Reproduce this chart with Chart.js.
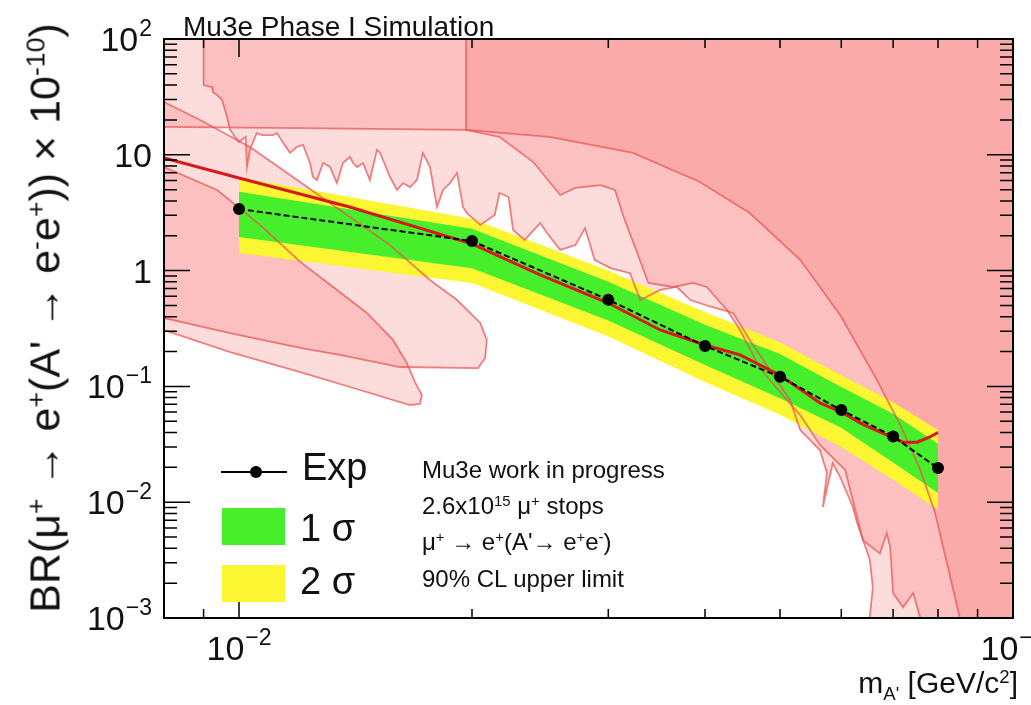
<!DOCTYPE html>
<html>
<head>
<meta charset="utf-8">
<title>Mu3e A' limit</title>
<script src="https://cdn.jsdelivr.net/npm/chart.js@4.4.1/dist/chart.umd.min.js"></script>
<style>
  html, body { margin: 0; padding: 0; background: #fff; }
  #wrap { position: relative; width: 1031px; height: 705px; overflow: hidden;
          font-family: "Liberation Sans", Arial, Helvetica, sans-serif; color: #111; }
  #plot { position: absolute; left: 0; top: 0; }
  .t { position: absolute; white-space: nowrap; line-height: normal; }
  .t sup, .t sub { font-size: 62%; line-height: 0; position: relative; vertical-align: baseline; }
  .t sup { top: -0.55em; }
  .t sub { top: 0.35em; }
  .mark { position: absolute; }
</style>
</head>
<body>
<div id="wrap">
  <canvas id="plot" width="1031" height="705"></canvas>

  <div class="t" style="left:183px; top:11px; font-size:28px;">Mu3e Phase I Simulation</div>
  <div class="t" style="left:45px; top:318px; font-size:43px; transform:translate(-50%,-50%) rotate(-90deg);">BR(μ<sup>+</sup> → e<sup>+</sup>(A' → e<sup>-</sup>e<sup>+</sup>)) × 10<sup>-10</sup>)</div>
  <div class="t" style="right:13px; top:666px; font-size:30px;">m<sub>A'</sub> [GeV/c<sup>2</sup>]</div>

  <div class="mark" style="left:221px; top:471px; width:66px; height:2px; background:#000;"></div>
  <div class="mark" style="left:250px; top:466px; width:12px; height:12px; border-radius:50%; background:#000;"></div>
  <div class="mark" id="swatch1" style="left:222px; top:508px; width:63px; height:37px;"></div>
  <div class="mark" id="swatch2" style="left:222px; top:565px; width:63px; height:37px;"></div>
  <div class="t" style="left:302px; top:446px; font-size:38px;">Exp</div>
  <div class="t" style="left:300px; top:507px; font-size:38px;">1 σ</div>
  <div class="t" style="left:300px; top:560px; font-size:38px;">2 σ</div>

  <div class="t" style="left:422px; top:456px; font-size:24px;">Mu3e work in progress</div>
  <div class="t" style="left:422px; top:492px; font-size:24px;">2.6x10<sup>15</sup> μ<sup>+</sup> stops</div>
  <div class="t" style="left:422px; top:528px; font-size:24px;">μ<sup>+</sup> → e<sup>+</sup>(A'→ e<sup>+</sup>e<sup>-</sup>)</div>
  <div class="t" style="left:422px; top:565px; font-size:24px;">90% CL upper limit</div>
</div>

<script>
// axis limits
const xRange = [0.008, 0.1];
const yRange = [0.001, 100];

// tick labels
const yLabelValues = [0.001, 0.01, 0.1, 1, 10, 100];
const yLabelBase = ["10", "10", "10", "1", "10", "10"];
const yLabelExp = ["\u22123", "\u22122", "\u22121", "", "", "2"];
const xLabelValues = [0.01, 0.1];
const xLabelBase = ["10", "10"];
const xLabelExp = ["\u22122", "\u22121"];

// expected limit and bands
const massPoints = [0.01, 0.02, 0.03, 0.04, 0.05, 0.06, 0.07, 0.08];
const expectedLimit = [3.4, 1.8, 0.56, 0.223, 0.121, 0.0625, 0.037, 0.0197];
const band1Upper = [4.8, 2.3, 0.80, 0.34, 0.19, 0.099, 0.058, 0.032];
const band1Lower = [1.95, 1.05, 0.37, 0.153, 0.079, 0.044, 0.022, 0.012];
const band2Upper = [6.4, 2.8, 1.0, 0.44, 0.24, 0.125, 0.073, 0.042];
const band2Lower = [1.42, 0.78, 0.27, 0.109, 0.057, 0.030, 0.0156, 0.0086];

// red curve
const redMass = [0.008, 0.01, 0.0139, 0.02, 0.0245, 0.03, 0.035, 0.04, 0.0444, 0.05, 0.0563, 0.06, 0.064, 0.07, 0.0721, 0.0752, 0.0781, 0.08];
const redBR = [9.4, 6.3, 3.54, 1.70, 0.92, 0.525, 0.307, 0.228, 0.187, 0.125, 0.072, 0.060, 0.047, 0.036, 0.033, 0.033, 0.0366, 0.040];

// excluded regions (pink)
const scanMass = [0.009, 0.009, 0.00923, 0.00925, 0.00937, 0.00951, 0.00965, 0.00974, 0.00988, 0.0100,
  0.0102, 0.01024, 0.01033, 0.01054, 0.01071, 0.01106, 0.0112, 0.0114, 0.01164, 0.01188,
  0.0121, 0.01235, 0.01246, 0.01261, 0.01284, 0.01311, 0.01338, 0.01362, 0.01391, 0.01404,
  0.01421, 0.01446, 0.01476, 0.01507, 0.01521, 0.01535, 0.01567, 0.016, 0.01629, 0.01663,
  0.01698, 0.01728, 0.01765, 0.01802, 0.01835, 0.01873, 0.01913, 0.01947, 0.0197, 0.0205,
  0.0214, 0.0217, 0.0223, 0.0226, 0.0234, 0.0245, 0.025, 0.026, 0.0272, 0.028,
  0.0288, 0.0302, 0.032, 0.033, 0.035, 0.0368, 0.0383, 0.0408, 0.0435, 0.0457,
  0.0485, 0.0515, 0.0531, 0.0547, 0.0563, 0.0575, 0.0568, 0.0585, 0.0598, 0.0621,
  0.0629, 0.0653, 0.0659, 0.0653];
const scanBR = [100, 40, 38.5, 34.8, 32.8, 29.7, 21.2, 16.4, 14.3, 12.9,
  14.3, 7.85, 11.0, 15.4, 14.8, 14.8, 15.4, 12.7, 10.4, 11.7,
  12.2, 8.49, 6.43, 6.06, 8.49, 7.85, 5.70, 8.49, 9.58, 8.49,
  7.85, 8.49, 6.06, 11.0, 10.4, 9.02, 6.43, 4.97, 5.70, 5.27,
  6.06, 10.4, 7.85, 3.54, 4.97, 5.70, 6.97, 3.54, 3.14, 2.48,
  3.02, 4.68, 4.32, 2.24, 1.84, 2.58, 2.11, 1.51, 1.66, 2.33,
  1.24, 1.05, 0.95, 0.557, 0.681, 0.722, 0.557, 0.485, 0.431, 0.252,
  0.139, 0.0764, 0.0421, 0.0344, 0.0282, 0.0179, 0.0091, 0.0218, 0.0165, 0.0091,
  0.0066, 0.0032, 0.00185, 0.001];

const plateauMass = [0.008, 0.012, 0.01965, 0.0217, 0.024, 0.026, 0.0272, 0.0293, 0.0306, 0.0315,
  0.0327, 0.0338, 0.0364, 0.0386, 0.0402, 0.0427, 0.0444, 0.0471, 0.05, 0.0531,
  0.0563, 0.0607, 0.064, 0.0673, 0.0687, 0.0694, 0.07, 0.0721, 0.0743, 0.0759];
const plateauBR = [17.4, 17.0, 16.4, 14.3, 8.66, 4.50, 5.17, 5.48, 4.97, 2.74,
  1.42, 0.782, 0.722, 0.782, 0.722, 0.457, 0.307, 0.144, 0.0895, 0.0566,
  0.0312, 0.0190, 0.0047, 0.0036, 0.0054, 0.0041, 0.00164, 0.00124, 0.00164, 0.001];

const arcMass = [0.01965, 0.01965, 0.0252, 0.0323, 0.0394, 0.0457, 0.0531, 0.0598, 0.0667, 0.0715, 0.0759, 0.0793, 0.0854];
const arcBR = [100, 16.4, 14.3, 10.4, 5.82, 3.14, 1.24, 0.414, 0.114, 0.0465, 0.019, 0.0081, 0.001];

const lobeAMass = [0.008, 0.00891, 0.01033, 0.01174, 0.0135, 0.01567, 0.01765, 0.01913, 0.0205, 0.0209, 0.0208, 0.02036, 0.01614, 0.0135, 0.012, 0.00974, 0.008];
const lobeABR = [28.6, 20.0, 11.7, 6.43, 3.34, 1.66, 0.830, 0.557, 0.353, 0.252, 0.176, 0.144, 0.147, 0.187, 0.215, 0.289, 0.390];

const lobeBMass = [0.008, 0.00937, 0.01064, 0.012, 0.01323, 0.01463, 0.01581, 0.01648, 0.01688, 0.01723, 0.01713, 0.01663, 0.01433, 0.012, 0.00974, 0.008];
const lobeBBR = [7.85, 4.97, 2.48, 1.19, 0.722, 0.431, 0.252, 0.159, 0.109, 0.0843, 0.0705, 0.0691, 0.0931, 0.133, 0.198, 0.307];

const PINK_FILL = "rgba(245, 80, 80, 0.2)";
const PINK_EDGE = "rgba(234, 82, 82, 0.72)";
const BAND_GREEN = "#46ee2c";
const BAND_YELLOW = "#fcf632";
const LABEL_FONT = '34px "Liberation Sans", Arial, sans-serif';
const EXP_FONT = '23px "Liberation Sans", Arial, sans-serif';

document.getElementById("swatch1").style.background = BAND_GREEN;
document.getElementById("swatch2").style.background = BAND_YELLOW;

function points(xs, ys) {
  return xs.map((x, i) => ({ x, y: ys[i] }));
}

const topLeft = { x: xRange[0], y: yRange[1] };
const topRight = { x: xRange[1], y: yRange[1] };
const bottomRight = { x: xRange[1], y: yRange[0] };

function regionFill(label, data) {
  return { label, data, fill: "shape", backgroundColor: PINK_FILL, borderColor: "rgba(0,0,0,0)",
    borderWidth: 0, pointRadius: 0, order: 10 };
}

function regionEdge(label, data) {
  return { label, data, fill: false, borderColor: PINK_EDGE, borderWidth: 1.8, pointRadius: 0, order: 4 };
}

function bandLine(label, data, fill, color, order) {
  return { label, data, fill, backgroundColor: color, borderColor: "rgba(0,0,0,0)",
    borderWidth: 0, pointRadius: 0, order };
}

const lobeA = points(lobeAMass, lobeABR);
const lobeB = points(lobeBMass, lobeBBR);

const datasets = [
  regionFill("plateau", [topLeft, ...points(plateauMass, plateauBR), bottomRight, topRight]),
  regionFill("scan", [...points(scanMass, scanBR), bottomRight, topRight]),
  regionFill("arc", [...points(arcMass, arcBR), bottomRight, topRight]),
  regionFill("lobe A", lobeA),
  regionFill("lobe B", lobeB),
  bandLine("2 sigma upper", points(massPoints, band2Upper), "+1", BAND_YELLOW, 8),
  bandLine("2 sigma lower", points(massPoints, band2Lower), false, BAND_YELLOW, 8),
  bandLine("1 sigma upper", points(massPoints, band1Upper), "+1", BAND_GREEN, 7),
  bandLine("1 sigma lower", points(massPoints, band1Lower), false, BAND_GREEN, 7),
  regionEdge("plateau edge", points(plateauMass, plateauBR)),
  regionEdge("scan edge", points(scanMass, scanBR)),
  regionEdge("arc edge", points(arcMass, arcBR)),
  regionEdge("lobe A edge", [...lobeA, lobeA[0]]),
  regionEdge("lobe B edge", [...lobeB, lobeB[0]]),
  {
    label: "observed",
    data: points(redMass, redBR),
    borderColor: "#d81818",
    borderWidth: 3,
    pointRadius: 0,
    fill: false,
    order: 3
  },
  {
    label: "Exp",
    data: points(massPoints, expectedLimit),
    borderColor: "#000",
    borderWidth: 2,
    borderDash: [6, 3],
    pointRadius: 6,
    pointBackgroundColor: "#000",
    pointBorderWidth: 0,
    fill: false,
    order: 1
  }
];

function isPowerOfTen(v) {
  const l = Math.log10(v);
  return Math.abs(l - Math.round(l)) < 1e-6;
}

function isWholeStep(v) {
  const m = v / Math.pow(10, Math.floor(Math.log10(v) + 1e-9));
  return Math.abs(m - Math.round(m)) < 1e-6;
}

function drawPowerLabel(ctx, base, exp, anchorX, baseline, align) {
  ctx.font = LABEL_FONT;
  const wb = ctx.measureText(base).width;
  ctx.font = EXP_FONT;
  const we = exp ? ctx.measureText(exp).width + 1 : 0;
  const total = wb + we;
  const left = align === "right" ? anchorX - total : anchorX - total / 2;
  ctx.font = LABEL_FONT;
  ctx.fillText(base, left, baseline);
  if (exp) {
    ctx.font = EXP_FONT;
    ctx.fillText(exp, left + wb + 1, baseline - 15);
  }
}

// ROOT-like frame: inward ticks on all four sides, powers-of-ten labels
const rootFrame = {
  id: "rootFrame",
  afterDatasetsDraw(chart) {
    const { ctx, chartArea: a, scales: { x, y } } = chart;
    ctx.save();
    ctx.strokeStyle = "#000";
    ctx.lineWidth = 1.5;
    ctx.beginPath();
    x.ticks.filter((t) => isWholeStep(t.value)).forEach((t) => {
      const px = x.getPixelForValue(t.value);
      const len = isPowerOfTen(t.value) ? 18 : 9;
      ctx.moveTo(px, a.bottom);
      ctx.lineTo(px, a.bottom - len);
      ctx.moveTo(px, a.top);
      ctx.lineTo(px, a.top + len);
    });
    y.ticks.filter((t) => isWholeStep(t.value)).forEach((t) => {
      const py = y.getPixelForValue(t.value);
      const len = isPowerOfTen(t.value) ? 26 : 13;
      ctx.moveTo(a.left, py);
      ctx.lineTo(a.left + len, py);
      ctx.moveTo(a.right, py);
      ctx.lineTo(a.right - len, py);
    });
    ctx.stroke();
    ctx.lineWidth = 2;
    ctx.strokeRect(a.left, a.top, a.right - a.left, a.bottom - a.top);

    ctx.fillStyle = "#111";
    ctx.textAlign = "left";
    ctx.textBaseline = "alphabetic";
    yLabelValues.forEach((v, i) => {
      drawPowerLabel(ctx, yLabelBase[i], yLabelExp[i], a.left - 12, y.getPixelForValue(v) + 12, "right");
    });
    xLabelValues.forEach((v, i) => {
      drawPowerLabel(ctx, xLabelBase[i], xLabelExp[i], x.getPixelForValue(v), a.bottom + 42, "center");
    });
    ctx.restore();
  }
};

const hiddenAxis = (range) => ({
  type: "logarithmic",
  min: range[0],
  max: range[1],
  ticks: { display: false },
  grid: { display: false, drawTicks: false },
  border: { display: false }
});

new Chart(document.getElementById("plot"), {
  type: "line",
  data: { datasets },
  options: {
    responsive: false,
    animation: false,
    events: [],
    layout: { padding: { left: 164, top: 39, right: 18, bottom: 87 } },
    plugins: { legend: { display: false }, tooltip: { enabled: false } },
    scales: { x: hiddenAxis(xRange), y: hiddenAxis(yRange) }
  },
  plugins: [rootFrame]
});
</script>
</body>
</html>
